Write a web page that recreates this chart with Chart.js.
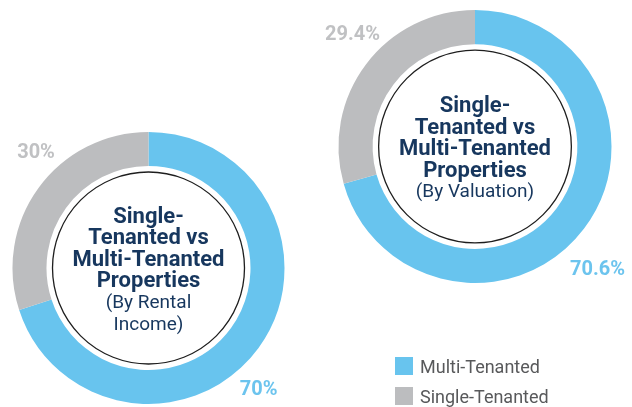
<!DOCTYPE html>
<html>
<head>
<meta charset="utf-8">
<script src="https://cdn.jsdelivr.net/npm/chart.js@4.4.1/dist/chart.umd.min.js"></script>
<style>
  html, body { margin: 0; padding: 0; background: #fff; }
  #wrap { position: relative; width: 632px; height: 407px; overflow: hidden; }
  #wrap canvas { position: absolute; left: 0; top: 0; }
  #legend { position: absolute; left: 395px; top: 351px; font: 18px Roboto, sans-serif; color: #58595b; }
  #legend div { display: flex; align-items: center; height: 30px; }
  #legend span.box { display: inline-block; width: 18px; height: 18px; margin-right: 7px; }
</style>
</head>
<body>
<div id="wrap">
  <canvas id="rental" width="632" height="407"></canvas>
  <canvas id="valuation" width="632" height="407"></canvas>
  <div id="legend"></div>
</div>
<script>
// data
var categories = ['Multi-Tenanted', 'Single-Tenanted'];
var rentalValues = [70, 30];
var valuationValues = [70.6, 29.4];
var rentalLabels = ['70%', '30%'];
var valuationLabels = ['70.6%', '29.4%'];
var titleLines = ['Single-', 'Tenanted vs', 'Multi-Tenanted', 'Properties'];
var rentalSub = ['(By Rental', 'Income)'];
var valuationSub = ['(By Valuation)'];

var colors = ['#68c4ee', '#bcbdbf'];
var labelColors = ['#6cc4ee', '#c0c1c3'];
var NAVY = '#17375e';

// draws the inner ring, the centre title and the percentage labels
var centrePlugin = {
    id: 'centre',
    afterDatasetsDraw: function (chart, args, opts) {
        var ctx = chart.ctx, arc = chart.getDatasetMeta(0).data[0];
        var cx = arc.x, cy = arc.y, r = arc.outerRadius;
        ctx.save();
        ctx.beginPath();
        ctx.arc(cx, cy, arc.innerRadius - 6, 0, Math.PI * 2);
        ctx.strokeStyle = '#1e1e1e';
        ctx.lineWidth = 1.3;
        ctx.stroke();

        var lines = titleLines.concat(opts.sub), lh = 21.5;
        var y0 = cy + 3 - (lines.length - 1) * lh / 2;
        ctx.textAlign = 'center';
        ctx.textBaseline = 'middle';
        ctx.fillStyle = NAVY;
        lines.forEach(function (t, i) {
            ctx.font = (i < titleLines.length ? 'bold 22px' : '19px') + ' Roboto, sans-serif';
            ctx.fillText(t, cx, y0 + i * lh);
        });

        ctx.font = 'bold 20px Roboto, sans-serif';
        opts.labels.forEach(function (t, i) {
            ctx.fillStyle = labelColors[i];
            ctx.fillText(t, cx + opts.pos[i][0] * r, cy + opts.pos[i][1] * r);
        });
        ctx.restore();
    }
};

function donut(id, values, labels, sub, pos, padding) {
    return new Chart(document.getElementById(id), {
        type: 'doughnut',
        data: {
            labels: categories,
            datasets: [{ data: values, backgroundColor: colors, borderWidth: 0 }]
        },
        options: {
            responsive: false,
            animation: false,
            cutout: '75%',
            layout: { padding: padding },
            events: [],
            plugins: {
                legend: { display: false },
                tooltip: { enabled: false },
                centre: { labels: labels, sub: sub, pos: pos }
            }
        },
        plugins: [centrePlugin]
    });
}

donut('rental', rentalValues, rentalLabels, rentalSub,
    [[0.81, 0.9], [-0.827, -0.846]],
    { left: 12.5, top: 132, right: 347.5, bottom: 3 });
donut('valuation', valuationValues, valuationLabels, valuationSub,
    [[0.897, 0.905], [-0.897, -0.817]],
    { left: 338.5, top: 10, right: 20.5, bottom: 124 });

var legend = document.getElementById('legend');
categories.forEach(function (c, i) {
    var row = document.createElement('div');
    row.innerHTML = '<span class="box" style="background:' + colors[i] + '"></span>' + c;
    legend.appendChild(row);
});
</script>
</body>
</html>
